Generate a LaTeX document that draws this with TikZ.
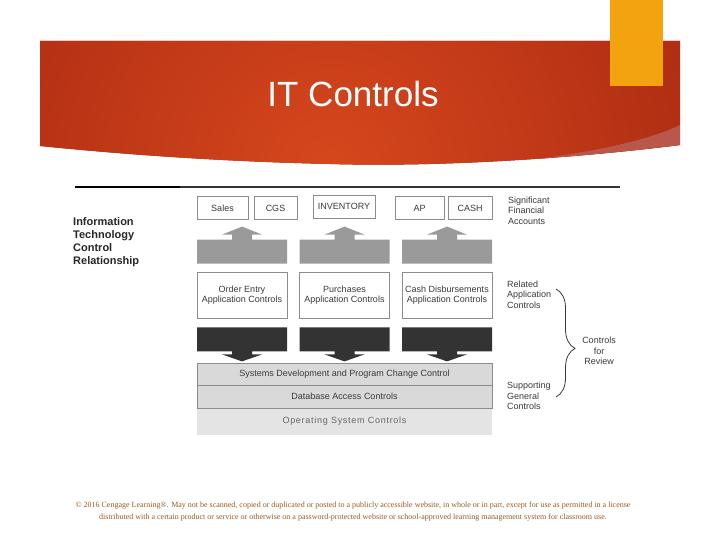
\documentclass[tikz,border=0pt]{standalone}
\usepackage{fontspec}
\setmainfont{Liberation Sans}
\newfontfamily\footfont{Liberation Serif}
\usepackage{tikz}
\usetikzlibrary{calc,decorations.pathreplacing}

\definecolor{bannerdark}{HTML}{981E0C}
\definecolor{bannerlight}{HTML}{D6471D}
\definecolor{bannerwedge}{HTML}{B9574A}
\definecolor{accent}{HTML}{F2A30F}
\definecolor{boxline}{HTML}{8C8C8C}
\definecolor{inktext}{HTML}{3A3A3A}
\definecolor{uparrow}{HTML}{9A9A9A}
\definecolor{downarrow}{HTML}{333333}
\definecolor{layerfill}{HTML}{D9D9D9}
\definecolor{osfill}{HTML}{E4E4E4}
\definecolor{foottext}{HTML}{9C5A22}

\begin{document}
\begin{tikzpicture}[
    x=1pt, y=-1pt,
    acct/.style={rectangle, draw=boxline, line width=0.8pt, minimum height=23pt, inner sep=0pt, font=\fontsize{9}{10}\selectfont, text=inktext},
    appbox/.style={rectangle, draw=boxline, line width=0.8pt, minimum width=90pt, minimum height=46pt, inner sep=0pt, align=center, font=\fontsize{9}{10.5}\selectfont, text=inktext},
    layer/.style={rectangle, draw=boxline, line width=0.8pt, fill=layerfill, minimum width=295pt, minimum height=22pt, inner sep=0pt, font=\fontsize{9}{10}\selectfont, text=inktext},
    side/.style={anchor=west, align=left, inner sep=0pt, font=\fontsize{9}{10.5}\selectfont, text=inktext}
]
\useasboundingbox (0,0) rectangle (720,540);
\fill[white] (0,0) rectangle (720,540);

% Title banner
\begin{scope}
\clip (40,41) -- (680,41) -- (680,145) .. controls (560,160) and (430,167) .. (330,164) .. controls (200,161) and (100,152) .. (40,146) -- cycle;
\fill[bannerdark] (0,0) rectangle (720,200);
\shade[inner color=bannerlight, outer color=bannerdark] (330,170) circle (600);
\fill[bannerwedge] (680,145) .. controls (620,152) and (570,158) .. (520,161) .. controls (590,153) and (650,140) .. (680,125) -- cycle;
\end{scope}
\fill[accent] (610,0) rectangle (663,86);
\node[font=\fontsize{35}{40}\selectfont, text=white] (title) at (353,94) {IT Controls};

% Rule and left heading
\coordinate (ruleL) at (75,187);
\coordinate (ruleM) at (180,187);
\coordinate (ruleR) at (620,187);
\draw[line width=1.6pt, black] (ruleL) -- (ruleM);
\draw[line width=1.4pt, black!80] (ruleM) -- (ruleR);
\node[anchor=west, align=left, inner sep=0pt, font=\fontsize{11}{13}\selectfont\bfseries, text=black!85] (itcr) at (73,242.5) {Information\\Technology\\Control\\Relationship};

% Account boxes
\node[acct, minimum width=51pt] (sales) at (222.5,208) {Sales};
\node[acct, minimum width=43pt] (cgs) at (275.5,208) {CGS};
\node[acct, minimum width=62pt] (inv) at (344,206.5) {INVENTORY};
\node[acct, minimum width=49pt] (ap) at (419.5,208) {AP};
\node[acct, minimum width=44pt] (cash) at (470,208) {CASH};

% Application controls with block arrows
\foreach \c/\n/\t in {242/1/{Order Entry\\Application Controls}, 344.5/2/{Purchases\\Application Controls}, 447/3/{Cash Disbursements\\Application Controls}} {
  \node[appbox] (app\n) at (\c,295) {\t};
  \fill[uparrow] ($(app\n.north)+(-45,-8)$) -- ++(0,-24) -- ++(35,0) -- ++(0,-5) -- ++(-10,0) -- ++(20,-8) -- ++(20,8) -- ++(-10,0) -- ++(0,5) -- ++(35,0) -- ++(0,24) -- cycle;
  \fill[downarrow] ($(app\n.south)+(-45,9)$) -- ++(90,0) -- ++(0,24) -- ++(-35,0) -- ++(0,3) -- ++(10,0) -- ++(-20,7) -- ++(-20,-7) -- ++(10,0) -- ++(0,-3) -- ++(-35,0) -- cycle;
}

% General control layers
\node[layer, draw=none, fill=osfill, minimum height=27pt, text=black!60] (osc) at (344.5,421.5) {\addfontfeature{LetterSpace=8}Operating System Controls};
\node[layer] (sdpc) at (344.5,374) {Systems Development and Program Change Control};
\node[layer, minimum height=23pt] (dbac) at (344.5,396.5) {Database Access Controls};

% Right labels
\node[side] (sfa) at (508,210.5) {Significant\\Financial\\Accounts};
\node[side] (rac) at (507,294.5) {Related\\Application\\Controls};
\node[side] (sgc) at (507,396) {Supporting\\General\\Controls};
\node[side, align=center, anchor=center] (cfr) at (599,351) {Controls\\for\\Review};
\coordinate (braceT) at (556,289);
\coordinate (braceB) at (556,397);
\draw[decorate, decoration={brace, amplitude=19pt, aspect=0.55}, line width=0.8pt, inktext] (braceT) -- (braceB);

% Footer
\node[font=\footfont\fontsize{8}{12}\selectfont, text=foottext, align=center] (copy) at (353,512) {© 2016 Cengage Learning®. May not be scanned, copied or duplicated or posted to a publicly accessible website, in whole or in part, except for use as permitted in a license\\distributed with a certain product or service or otherwise on a password-protected website or school-approved learning management system for classroom use.};
\end{tikzpicture}
\end{document}
